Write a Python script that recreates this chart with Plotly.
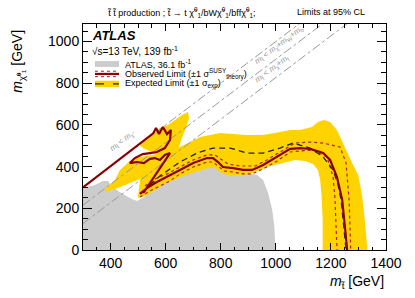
import plotly.graph_objects as go

# ---------------- data (GeV) ----------------
x_range = [300, 1400]
y_range = [0, 1084]
x_ticks = [400, 600, 800, 1000, 1200, 1400]
y_ticks = [0, 200, 400, 600, 800, 1000]

# previous result ATLAS 36.1 fb-1 (grey area)
gray_x = [300, 300, 343, 372, 390, 405, 427, 452, 477, 496, 517, 543, 572, 605, 634, 670, 707, 736, 768,
          797, 823, 895, 932, 954, 972, 987, 994, 997, 1001]
gray_y = [0, 297, 312, 331, 331, 307, 283, 264, 245, 235, 249, 278, 312, 336, 360, 379, 393, 403, 403,
          384, 369, 369, 360, 336, 273, 192, 120, 48, 0]

# expected +-1 sigma band (main)
band_x = [507, 543, 579, 616, 652, 725, 797, 895, 954, 1015, 1052, 1088, 1131, 1153, 1175, 1197, 1222, 1252,
          1277, 1299, 1313, 1321, 1328, 1332,
          1170, 1170, 1166, 1161, 1153, 1135, 1106, 1070, 1041, 979, 943, 906, 870, 827, 797, 779, 754, 707,
          652, 605, 561, 525, 499]
band_y = [336, 384, 432, 470, 494, 542, 561, 552, 552, 566, 576, 576, 590, 614, 623, 614, 576, 489,
          417, 360, 264, 168, 72, 0,
          0, 144, 264, 336, 384, 412, 427, 432, 422, 403, 384, 365, 360, 360, 374, 393, 393, 374,
          350, 321, 288, 259, 249]

# expected +-1 sigma band (compressed-region lobe)
lobe_x = [379, 427, 470, 517, 568, 616, 637, 645, 659, 674, 685, 681, 659, 634, 608, 579, 550, 525, 507,
          507, 525, 550, 561, 525, 488, 463, 434, 416, 379]
lobe_y = [278, 297, 321, 345, 374, 417, 456, 480, 537, 585, 633, 662, 647, 623, 600, 585, 550, 525, 505,
          499, 484, 470, 456, 451, 441, 418, 384, 336, 293]

# observed limit (nominal)
obs_x = [300, 555, 565, 576, 590, 605, 619, 616, 597, 568, 543, 517, 488, 470, 496, 521, 543, 561, 579,
         597, 616, 587, 550, 521, 514,
         507, 532, 568, 605, 652, 700, 750, 772, 790, 808, 845, 881, 914, 954, 1005, 1052, 1088, 1124,
         1172, 1197, 1222, 1241, 1252, 1259]
obs_y = [300, 560, 585, 556, 590, 556, 576, 528, 489, 470, 465, 460, 441, 417, 422, 417, 437, 441, 432,
         456, 465, 408, 336, 278, 278,
         269, 297, 326, 350, 384, 417, 441, 441, 422, 398, 393, 384, 384, 408, 446, 485, 489, 485,
         465, 432, 350, 240, 96, 0]

# observed +1 sigma theory
obs_up_x = [525, 568, 605, 652, 700, 750, 779, 805, 827, 870, 925, 961, 1015, 1070, 1124, 1172, 1233,
            1255, 1266, 1270, 1272]
obs_up_y = [307, 345, 365, 398, 432, 456, 456, 432, 412, 403, 403, 427, 470, 513, 518, 513, 494,
            417, 240, 96, 0]

# observed -1 sigma theory
obs_dn_x = [507, 543, 579, 616, 652, 700, 750, 772, 790, 812, 845, 881, 914, 954, 1005, 1052, 1088,
            1135, 1186, 1208, 1215, 1219, 1222]
obs_dn_y = [254, 283, 307, 331, 365, 398, 422, 422, 403, 379, 374, 365, 365, 389, 427, 470, 475,
            480, 446, 350, 240, 96, 0]

# expected limit (nominal)
exp_x = [543, 579, 652, 714, 772, 834, 895, 954, 1015, 1063, 1124, 1172, 1208, 1226, 1237, 1244, 1252, 1255]
exp_y = [312, 355, 422, 465, 489, 489, 465, 465, 489, 513, 489, 446, 384, 312, 240, 144, 48, 0]

# kinematic boundaries: m_stop = m_chi + offset
kin_offsets = [0, 85, 173]

# ---------------- figure ----------------
YEL = "#FFD300"
RED = "#8B0000"
GRY = "#CCCCCC"
DOT = "#B22222"

fig = go.Figure()
fig.add_trace(go.Scatter(x=gray_x, y=gray_y, fill="toself", fillcolor=GRY, mode="none", hoverinfo="skip"))
fig.add_trace(go.Scatter(x=band_x, y=band_y, fill="toself", fillcolor=YEL, mode="none", hoverinfo="skip"))
fig.add_trace(go.Scatter(x=lobe_x, y=lobe_y, fill="toself", fillcolor=YEL, mode="none", hoverinfo="skip"))

for off in kin_offsets:
    xs = [x_range[0], x_range[1]]
    fig.add_trace(go.Scatter(x=xs, y=[v - off for v in xs], mode="lines",
                             line=dict(color="#999999", width=1, dash="dashdot"), hoverinfo="skip"))

fig.add_trace(go.Scatter(x=obs_up_x, y=obs_up_y, mode="lines",
                         line=dict(color=DOT, width=1.2, dash="dot"), hoverinfo="skip"))
fig.add_trace(go.Scatter(x=obs_dn_x, y=obs_dn_y, mode="lines",
                         line=dict(color=DOT, width=1.2, dash="dot"), hoverinfo="skip"))
fig.add_trace(go.Scatter(x=exp_x, y=exp_y, mode="lines",
                         line=dict(color="#222222", width=1.3, dash="6px,4px"), hoverinfo="skip"))
fig.add_trace(go.Scatter(x=obs_x, y=obs_y, mode="lines",
                         line=dict(color=RED, width=2.2), hoverinfo="skip"))

FONT = "Liberation Sans, Arial, sans-serif"

axis_common = dict(showline=True, linecolor="black", linewidth=1, mirror="ticks", ticks="inside",
                   tickcolor="black", showgrid=False, zeroline=False,
                   tickfont=dict(family=FONT, size=14, color="black"))
fig.update_xaxes(range=x_range, tickvals=x_ticks, ticklen=7,
                 minor=dict(ticks="inside", ticklen=3.5, dtick=50, tick0=300, tickcolor="black", showgrid=False),
                 **axis_common)
fig.update_yaxes(range=y_range, tickvals=y_ticks, ticklen=9,
                 minor=dict(ticks="inside", ticklen=5, dtick=50, tick0=0, tickcolor="black", showgrid=False),
                 **axis_common)

ann = []
def A(text, x, y, size, xanchor="left", yanchor="middle", angle=0, color="black", **kw):
    ann.append(dict(text=text, x=x, y=y, xref="paper", yref="paper", showarrow=False,
                    xanchor=xanchor, yanchor=yanchor, textangle=angle,
                    font=dict(family=FONT, size=size, color=color), **kw))

# header
A("t\u0303 t\u0303 production ; t\u0303 \u2192 t \u03c7\u0303<sup>0</sup><sub>1</sub>/bW\u03c7\u0303<sup>0</sup><sub>1</sub>/bff\u03c7\u0303<sup>0</sup><sub>1</sub>;",
  0.072, 1.053, 9)
A("Limits at 95% CL", 0.818, 1.053, 9, xanchor="center")
# axis titles
A("<i>m</i><sub>\u03c7\u0303\u2070\u2081</sub> [GeV]", -0.215, 0.985, 14, xanchor="center", yanchor="top", angle=-90)
A("<i>m</i><sub>t\u0303</sub> [GeV]", 1.0, -0.142, 14, xanchor="right")
# ATLAS label
A("<b><i>ATLAS</i></b>", 0.022, 0.951, 13)
A("\u221as=13 TeV, 139 fb<sup>-1</sup>", 0.022, 0.881, 10)
# legend texts
A("ATLAS, 36.1 fb<sup>-1</sup>", 0.132, 0.823, 9)
A("Observed Limit (\u00b11 \u03c3<sup>SUSY</sup><sub>theory</sub>)", 0.132, 0.779, 9)
A("Expected Limit (\u00b11 \u03c3<sub>exp</sub>)", 0.132, 0.735, 9)
# kinematic line labels (data coords)
ann.append(dict(text="<i>m</i><sub>t\u0303</sub> < <i>m</i><sub>\u03c7\u0303</sub>", x=443, y=523,
                xref="x", yref="y", showarrow=False, textangle=-37,
                font=dict(family=FONT, size=8, color="#999999")))
ann.append(dict(text="<i>m</i><sub>t\u0303</sub> < <i>m</i><sub>\u03c7\u0303</sub>+<i>m</i><sub>W</sub>+<i>m</i><sub>b</sub>",
                x=1013, y=983, xref="x", yref="y", showarrow=False, textangle=-37,
                font=dict(family=FONT, size=8, color="#999999")))
ann.append(dict(text="<i>m</i><sub>t\u0303</sub> < <i>m</i><sub>\u03c7\u0303</sub>+<i>m</i><sub>t</sub>",
                x=987, y=868, xref="x", yref="y", showarrow=False, textangle=-37,
                font=dict(family=FONT, size=8, color="#999999")))

shapes = [
    dict(type="rect", xref="paper", yref="paper", x0=0.0396, x1=0.1188, y0=0.81, y1=0.836,
         fillcolor=GRY, line=dict(width=0)),
    dict(type="line", xref="paper", yref="paper", x0=0.0396, x1=0.1188, y0=0.779, y1=0.779,
         line=dict(color=RED, width=2.2)),
    dict(type="line", xref="paper", yref="paper", x0=0.0396, x1=0.1188, y0=0.791, y1=0.791,
         line=dict(color=DOT, width=1, dash="dot")),
    dict(type="line", xref="paper", yref="paper", x0=0.0396, x1=0.1188, y0=0.767, y1=0.767,
         line=dict(color=DOT, width=1, dash="dot")),
    dict(type="rect", xref="paper", yref="paper", x0=0.0396, x1=0.1188, y0=0.721, y1=0.749,
         fillcolor=YEL, line=dict(width=0)),
    dict(type="line", xref="paper", yref="paper", x0=0.0396, x1=0.1188, y0=0.735, y1=0.735,
         line=dict(color="#222222", width=1.3, dash="dash")),
]

fig.update_layout(width=415, height=298, margin=dict(l=83, r=29, t=24, b=48),
                  paper_bgcolor="white", plot_bgcolor="white", showlegend=False,
                  annotations=ann, shapes=shapes, font=dict(family=FONT))
fig.write_html("out.html", config={"displayModeBar": False},
               post_script="document.body.style.margin='0';document.body.style.padding='0';")
